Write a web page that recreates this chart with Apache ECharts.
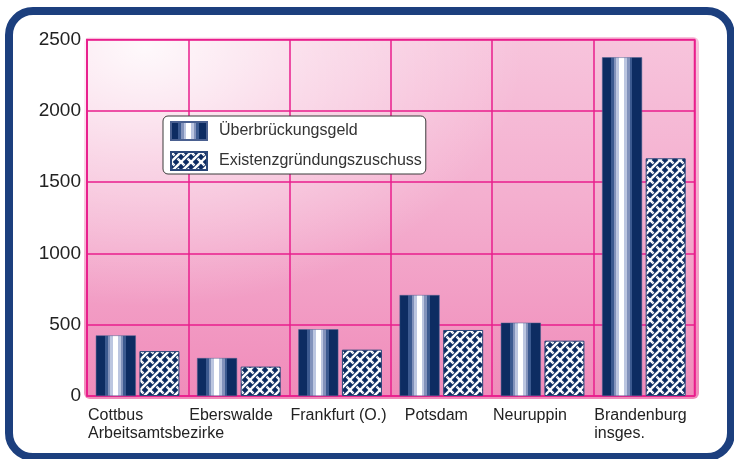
<!DOCTYPE html>
<html>
<head>
<meta charset="utf-8">
<script src="https://cdn.jsdelivr.net/npm/echarts@6/dist/echarts.min.js"></script>
<style>
  html, body { margin: 0; padding: 0; background: #ffffff; overflow: hidden; }
  #frame {
    position: absolute; left: 5px; top: 7px; width: 730px; height: 454px;
    box-sizing: border-box; border: 8px solid #1c3f7e; border-radius: 28px;
    background: #ffffff;
  }
  #plotbg {
    position: absolute; left: 84px; top: 37px; width: 615px; height: 362px;
    border-radius: 6px;
    background:
      radial-gradient(ellipse 380px 260px at 60px 10px, rgba(255,255,255,0.9) 0%, rgba(255,255,255,0.45) 45%, rgba(255,255,255,0) 100%),
      linear-gradient(to bottom, #f7c4dc 0%, #f4afcf 45%, #f08bba 100%);
  }
  #chart { position: absolute; left: 0; top: 0; width: 734px; height: 459px; }
</style>
</head>
<body>
<div id="frame"></div>
<div id="plotbg"></div>
<div id="chart"></div>
<script>
// Arbeitsamtsbezirke in Brandenburg
const categories = ['Cottbus', 'Eberswalde', 'Frankfurt (O.)', 'Potsdam', 'Neuruppin', 'Brandenburg insges.'];
const tickLabels = ['Cottbus\nArbeitsamtsbezirke', 'Eberswalde', 'Frankfurt (O.)', 'Potsdam', 'Neuruppin', 'Brandenburg\ninsges.'];
const seriesNames = ['Überbrückungsgeld', 'Existenzgründungszuschuss'];
const ueberbrueckungsgeld = [425, 266, 468, 708, 514, 2375];
const existenzgruendung = [315, 206, 325, 463, 388, 1667];
const yTicks = [0, 500, 1000, 1500, 2000, 2500];

const NAVY = '#0d2c62';
const GRID_PINK = '#e91e8c';
const FONT = "'Liberation Sans', Arial, sans-serif";

// Cylinder-like striped fill for the first series
function stripe(a, b, c) { return [{ offset: a, color: c }, { offset: b, color: c }]; }
const cylinderFill = {
  type: 'linear', x: 0, y: 0, x2: 1, y2: 0,
  colorStops: [].concat(
    stripe(0, 0.22, NAVY),
    stripe(0.22, 0.30, '#3c5a90'),
    stripe(0.30, 0.36, '#8292bb'),
    stripe(0.36, 0.43, '#bcc6e0'),
    stripe(0.43, 0.56, '#ffffff'),
    stripe(0.56, 0.62, '#bcc6e0'),
    stripe(0.62, 0.69, '#8292bb'),
    stripe(0.69, 0.76, '#3c5a90'),
    stripe(0.76, 1, NAVY)
  )
};

// Woven lattice tile for the second series: diagonal strands crossing over and under
function makeWeaveTile() {
  const s = 10, w = 2.4, gap = 4.4;
  const cv = document.createElement('canvas');
  cv.width = s; cv.height = s;
  const g = cv.getContext('2d');
  g.fillStyle = NAVY;
  g.fillRect(0, 0, s, s);
  g.lineCap = 'butt';
  function seg(x1, y1, x2, y2, over) {
    if (over) {
      g.strokeStyle = NAVY; g.lineWidth = gap;
      g.beginPath(); g.moveTo(x1, y1); g.lineTo(x2, y2); g.stroke();
    }
    g.strokeStyle = '#ffffff'; g.lineWidth = w;
    g.beginPath(); g.moveTo(x1, y1); g.lineTo(x2, y2); g.stroke();
  }
  // "\" strand, full length
  seg(-2, -2, s + 2, s + 2, false);
  // "/" strand passes over "\" in the middle
  seg(s / 2 - 3.2, s / 2 + 3.2, s / 2 + 3.2, s / 2 - 3.2, true);
  // remaining "/" pieces toward the corners
  seg(-2, s + 2, s / 2 - 3.0, s / 2 + 3.0, false);
  seg(s / 2 + 3.0, s / 2 - 3.0, s + 2, -2, false);
  seg(-2, 2, 2, -2, false);
  seg(s - 2, s + 2, s + 2, s - 2, false);
  // "\" passes over "/" at the corners
  seg(-2, -2, 2.6, 2.6, true);
  seg(s - 2.6, s - 2.6, s + 2, s + 2, true);
  return cv;
}
const weaveFill = { image: makeWeaveTile(), repeat: 'repeat' };

// Labels sit at the left edge of each category cell
const labelNudge = { 'Potsdam': 13 };
const labelAxisData = tickLabels.map(function (t) {
  return {
    value: t,
    textStyle: { align: 'left', verticalAlign: 'top', padding: [0, 0, 0, 1 + (labelNudge[t] || 0)] }
  };
}).concat([{ value: '' }]);

const chart = echarts.init(document.getElementById('chart'), null, { renderer: 'canvas' });
chart.setOption({
  animation: false,
  backgroundColor: 'transparent',
  textStyle: { fontFamily: FONT },
  grid: {
    left: 87, right: 39.5, top: 39.5, bottom: 63,
    show: true, borderColor: GRID_PINK, borderWidth: 1.5, backgroundColor: 'transparent'
  },
  legend: {
    orient: 'vertical', align: 'left',
    left: 163, top: 116,
    padding: [5, 4, 3, 7],
    itemWidth: 36, itemHeight: 18, itemGap: 10,
    icon: 'rect',
    backgroundColor: '#ffffff', borderColor: '#3a3a3a', borderWidth: 1, borderRadius: 5,
    textStyle: { fontFamily: FONT, fontSize: 16, color: '#333333', padding: [0, 0, 0, 7] },
    data: seriesNames
  },
  xAxis: [
    {
      type: 'category', data: categories, boundaryGap: true,
      axisLine: { show: false }, axisTick: { show: false }, axisLabel: { show: false },
      splitLine: { show: true, interval: 0, lineStyle: { color: GRID_PINK, width: 1.5 } }
    },
    {
      type: 'category', data: labelAxisData, boundaryGap: false, position: 'bottom',
      axisLine: { show: false }, axisTick: { show: false }, splitLine: { show: false },
      axisLabel: {
        interval: 0, align: 'left', verticalAlign: 'top', margin: 11,
        fontFamily: FONT, fontSize: 16, lineHeight: 18, color: '#222222'
      }
    }
  ],
  yAxis: {
    type: 'value', min: yTicks[0], max: yTicks[yTicks.length - 1], interval: yTicks[1] - yTicks[0],
    axisLine: { show: true, lineStyle: { color: GRID_PINK, width: 1.5 } },
    axisTick: { show: false },
    axisLabel: {
      margin: 6, fontFamily: FONT, fontSize: 19, color: '#222222',
      formatter: function (v) { return String(v); }
    },
    splitLine: { show: true, lineStyle: { color: GRID_PINK, width: 1.5 } }
  },
  series: [
    {
      name: seriesNames[0], type: 'bar', xAxisIndex: 0, data: ueberbrueckungsgeld,
      barWidth: 40, barGap: '9%',
      itemStyle: { color: cylinderFill, borderColor: '#4a6090', borderWidth: 0.5 }
    },
    {
      name: seriesNames[1], type: 'bar', xAxisIndex: 0, data: existenzgruendung,
      barWidth: 40, barGap: '9%',
      itemStyle: { color: weaveFill, borderColor: '#2a4678', borderWidth: 1 }
    }
  ]
});
</script>
</body>
</html>
